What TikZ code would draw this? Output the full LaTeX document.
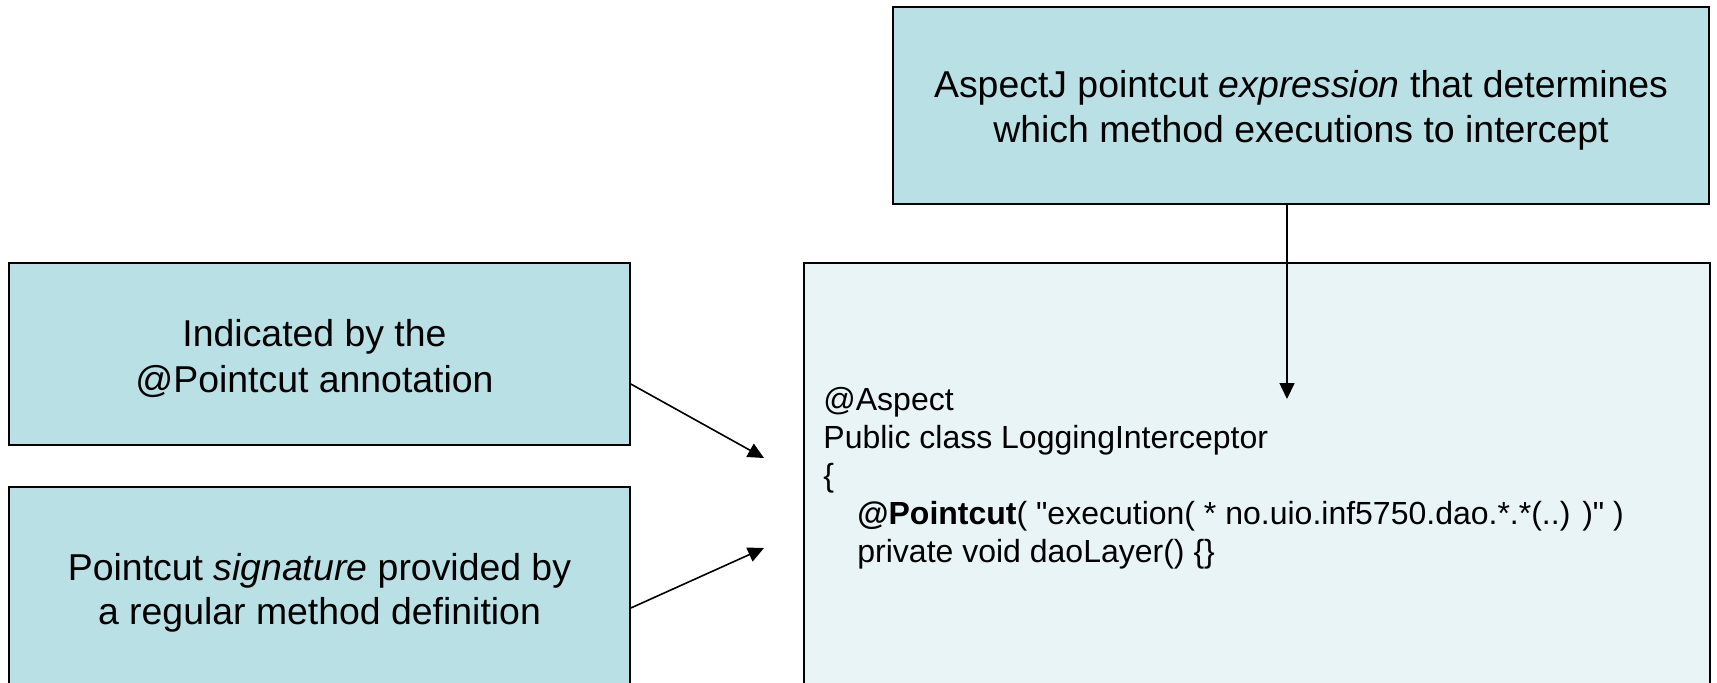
\documentclass[tikz,border=0pt]{standalone}
\usepackage{fontspec}
\setmainfont{Liberation Sans}
\usetikzlibrary{arrows.meta}
\definecolor{boxteal}{RGB}{185,224,228}
\definecolor{boxpale}{RGB}{232,244,245}
\tikzset{
  tealbox/.style={draw=black, line width=0.8pt, fill=boxteal, inner sep=0pt},
  palebox/.style={draw=black, line width=0.8pt, fill=boxpale, inner sep=0pt},
  boxlabel/.style={align=center, inner sep=0pt},
  codetext/.style={align=left, inner sep=0pt, font=\fontsize{16}{19}\selectfont},
  arr/.style={line width=0.8pt, -{Triangle[length=8pt,width=7.5pt]}}
}
\begin{document}
\begin{tikzpicture}[x=0.5pt,y=-0.5pt]
\useasboundingbox (0,0) rectangle (1717,682);
\clip (0,0) rectangle (1717,682);
\node[tealbox, minimum width=408pt, minimum height=98.5pt] (top) at (1301,105.5) {};
\node[boxlabel, font=\fontsize{18.7}{22.2}\selectfont] (toplbl) at ([yshift=-2.5pt]top.center)
  {AspectJ pointcut \textit{expression} that determines\\which method executions to intercept};
\node[tealbox, minimum width=310.5pt, minimum height=91pt] (ann) at (319.5,354) {};
\node[boxlabel, font=\fontsize{18.7}{23}\selectfont] (annlbl) at ([xshift=-2.5pt,yshift=-2.2pt]ann.center)
  {Indicated by the\\@Pointcut annotation};
\node[tealbox, minimum width=310.5pt, minimum height=101.5pt] (sig) at (319.5,588.5) {};
\node[boxlabel, font=\fontsize{18.7}{22.2}\selectfont] (siglbl) at ([yshift=-2.2pt]sig.center)
  {Pointcut \textit{signature} provided by\\a regular method definition};
\node[palebox, minimum width=453pt, minimum height=218.5pt] (big) at (1257,481.5) {};
\node[codetext, anchor=west] (code) at (823,478)
  {@Aspect\\Public class LoggingInterceptor\\\{\\
   \hspace*{17pt}\textbf{@Pointcut}( \textquotedbl execution( * no.uio.inf5750.dao.*.*(..) )\textquotedbl\ )\\
   \hspace*{17pt}private void daoLayer() \{\}};
\coordinate (tipA) at (1287,399);
\coordinate (tipB) at (764,458);
\coordinate (tipC) at (764,548);
\draw[arr] ([xshift=-7pt]top.south) -- (tipA);
\draw[arr] ([yshift=-15pt]ann.east) -- (tipB);
\draw[arr] ([yshift=-9.75pt]sig.east) -- (tipC);
\end{tikzpicture}
\end{document}
